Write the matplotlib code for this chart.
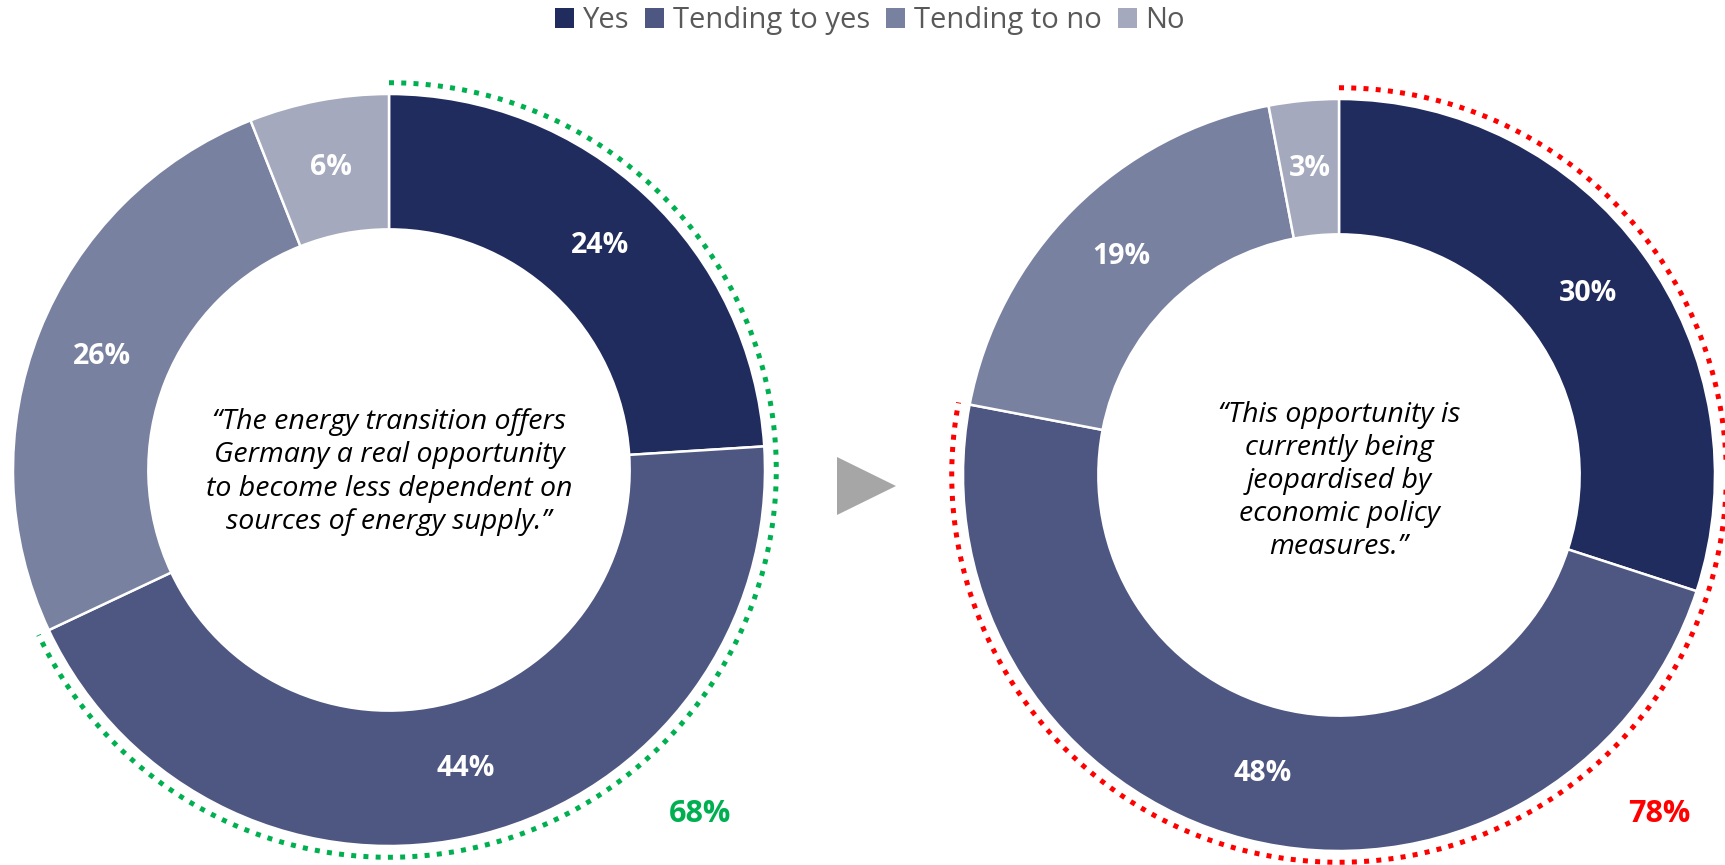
import matplotlib
matplotlib.use("Agg")
import matplotlib.pyplot as plt
from matplotlib.patches import Patch, Polygon
import numpy as np

plt.rcParams['font.family'] = ['Open Sans', 'DejaVu Sans']

# Survey answers
categories = ["Yes", "Tending to yes", "Tending to no", "No"]
left_values = [24, 44, 26, 6]
right_values = [30, 48, 19, 3]
left_statement = ("\u201cThe energy transition offers\nGermany a real opportunity\n"
                  "to become less dependent on\nsources of energy supply.\u201d")
right_statement = ("\u201cThis opportunity is\ncurrently being\njeopardised by\n"
                   "economic policy\nmeasures.\u201d")

colors = ["#212C5E", "#4E5781", "#7981A0", "#A5A9BE"]
text_grey = "#595959"

W, H = 1725, 865
fig = plt.figure(figsize=(W / 100, H / 100), dpi=100)
ax = fig.add_axes([0, 0, 1, 1])


def Y(py):
    return H - py


R = 376
RING = 0.36


def donut(values, cx, cy, statement, text_cy, hl_color, hl_count):
    wedges, _, autotexts = ax.pie(
        values, center=(cx, Y(cy)), radius=R, startangle=90, counterclock=False,
        colors=colors, autopct="%d%%", pctdistance=0.82,
        wedgeprops=dict(width=RING * R, edgecolor="white", linewidth=1.8),
        textprops=dict(color="white", fontsize=20.5, fontweight="bold"))
    # dotted highlight around the leading answers
    share = sum(values[:hl_count]) / sum(values)
    th = np.radians(np.linspace(90, 90 - share * 360, 400))
    r_arc = R * 1.03
    ax.plot(cx + r_arc * np.cos(th), Y(cy) + r_arc * np.sin(th),
            color=hl_color, lw=3.6, linestyle=(0, (1, 1.45)),
            solid_capstyle="butt", dash_capstyle="butt")
    ax.text(cx, Y(text_cy), statement, ha="center", va="center",
            fontsize=20.5, style="italic", color="black", linespacing=1.24)
    return share


s1 = donut(left_values, 389, 470, left_statement, 472, "#00B050", 2)
s2 = donut(right_values, 1339, 475, right_statement, 481, "#FF0000", 2)

ax.text(700, Y(814), f"{round(s1 * 100)}%", ha="center", va="center",
        fontsize=22, fontweight="bold", color="#00B050")
ax.text(1659, Y(814), f"{round(s2 * 100)}%", ha="center", va="center",
        fontsize=22, fontweight="bold", color="#FF0000")

# arrow between the two charts
ax.add_patch(Polygon([(837, Y(457)), (837, Y(515)), (896, Y(486))],
                     closed=True, facecolor="#A6A6A6", edgecolor="none"))

handles = [Patch(facecolor=c, edgecolor="none") for c in colors]
leg = ax.legend(handles, categories, loc="upper center", bbox_to_anchor=(870 / W, 1 - 5 / H),
                ncol=4, frameon=False, fontsize=21, handlelength=0.65,
                handleheight=0.65, handletextpad=0.3, columnspacing=0.55,
                borderaxespad=0.0, borderpad=0.05)
for t in leg.get_texts():
    t.set_color(text_grey)

ax.set_xlim(0, W)
ax.set_ylim(0, H)
ax.set_aspect("equal")
ax.axis("off")

fig.savefig("out.png", dpi=100, facecolor="white")
